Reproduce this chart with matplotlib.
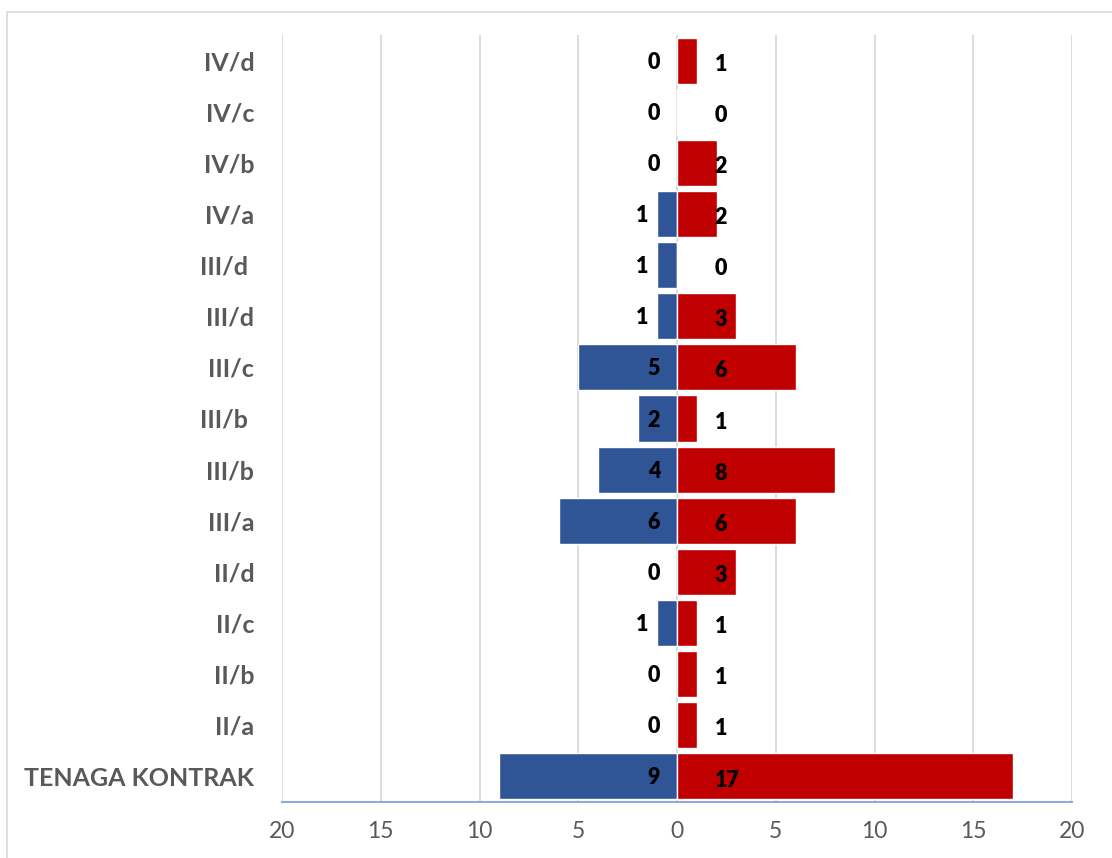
import matplotlib.pyplot as plt
from matplotlib.patches import Rectangle

categories = ["IV/d", "IV/c", "IV/b", "IV/a", "III/d ", "III/d", "III/c", "III/b ",
              "III/b", "III/a", "II/d", "II/c", "II/b", "II/a", "TENAGA KONTRAK"]
left_values = [0, 0, 0, 1, 1, 1, 5, 2, 4, 6, 0, 1, 0, 0, 9]
right_values = [1, 0, 2, 2, 0, 3, 6, 1, 8, 6, 3, 1, 1, 1, 17]
tick_values = [-20, -15, -10, -5, 0, 5, 10, 15, 20]
tick_labels = ["20", "15", "10", "5", "0", "5", "10", "15", "20"]

BLUE = "#2F5597"
RED = "#C00000"
GRAY_TEXT = "#595959"
FONT = "Lato"

fig = plt.figure(figsize=(11.12, 8.58), dpi=100)
ax = fig.add_axes([282 / 1112, 56 / 858, 790 / 1112, 767 / 858])

# outer chart frame
fig.patches.append(Rectangle((7 / 1112, -0.1), 1.2, (852 - 6) / 858 + 0.1,
                             transform=fig.transFigure, fill=False,
                             edgecolor="#D9D9D9", linewidth=1.2))

n = len(categories)
ys = list(range(n))[::-1]

ax.barh(ys, [-v for v in left_values], height=0.9, color=BLUE,
        edgecolor="white", linewidth=1, zorder=3)
ax.barh(ys, right_values, height=0.9, color=RED,
        edgecolor="white", linewidth=1, zorder=3)

for y, lv, rv in zip(ys, left_values, right_values):
    lx = -1.45 if lv == 1 else -0.85
    ax.text(lx, y - 0.03, str(lv), ha="right", va="center", fontsize=15.5,
            fontweight="heavy", color="black", family=FONT, zorder=4)
    ax.text(1.9, y - 0.07, str(rv), ha="left", va="center", fontsize=15.5,
            fontweight="heavy", color="black", family=FONT, zorder=4)

ax.set_xlim(-20, 20)
ax.set_ylim(-0.5, n - 0.5)
ax.set_xticks(tick_values)
ax.set_xticklabels(tick_labels, fontsize=16.5, color=GRAY_TEXT, family=FONT)
ax.set_yticks(ys)
ax.set_yticklabels(categories, fontsize=18, fontweight="bold", color=GRAY_TEXT,
                   family=FONT)
ax.tick_params(axis="both", length=0)
ax.tick_params(axis="y", pad=20)
ax.tick_params(axis="x", pad=14)

ax.grid(axis="x", color="#D9D9D9", linewidth=1.3, zorder=0)
for side in ["top", "left", "right"]:
    ax.spines[side].set_visible(False)
ax.spines["bottom"].set_color("#8FAADC")
ax.spines["bottom"].set_linewidth(1.5)
ax.spines["bottom"].set_zorder(5)

fig.savefig("out.png", dpi=100)
